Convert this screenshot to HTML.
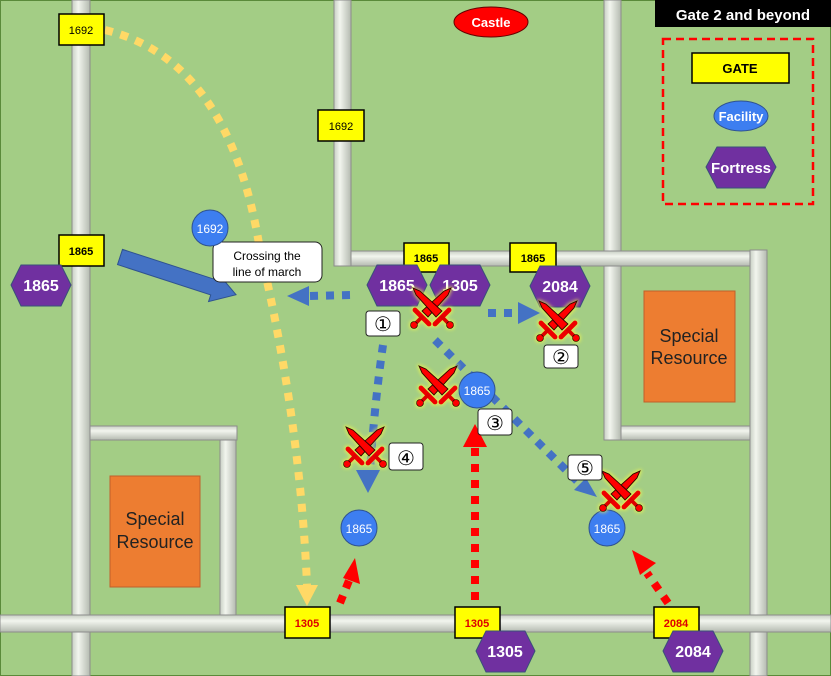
<!DOCTYPE html>
<html><head><meta charset="utf-8"><style>
html,body{margin:0;padding:0;background:#a3cd85}
svg{display:block}
text{font-family:"Liberation Sans",sans-serif}
</style></head><body>
<svg width="831" height="676" viewBox="0 0 831 676" xmlns="http://www.w3.org/2000/svg">
<defs>
<linearGradient id="rv" x1="0" x2="1" y1="0" y2="0"><stop offset="0" stop-color="#c8cfc4"/><stop offset=".35" stop-color="#f2f5ee"/><stop offset="1" stop-color="#b4bab0"/></linearGradient>
<linearGradient id="rh" x1="0" x2="0" y1="0" y2="1"><stop offset="0" stop-color="#c8cfc4"/><stop offset=".35" stop-color="#f2f5ee"/><stop offset="1" stop-color="#b4bab0"/></linearGradient>
<filter id="glow" x="-30%" y="-30%" width="160%" height="160%">
 <feMorphology in="SourceAlpha" operator="dilate" radius="1" result="d"/>
 <feGaussianBlur in="d" stdDeviation="1.5" result="b"/>
 <feFlood flood-color="#ffff40" flood-opacity=".6"/>
 <feComposite in2="b" operator="in" result="g"/>
 <feMerge><feMergeNode in="g"/><feMergeNode in="SourceGraphic"/></feMerge>
</filter>
<g id="sw1">
 <polygon points="-10,4 12,-16 19,-19 16,-12 -4,10" fill="#f00" stroke="#300" stroke-width="1"/>
 <line x1="-17" y1="3" x2="-3" y2="17" stroke="#e00" stroke-width="5" stroke-linecap="round"/>
 <line x1="-9" y1="9" x2="-16" y2="16" stroke="#d00" stroke-width="4"/>
 <circle cx="-18" cy="18" r="3.5" fill="#f00" stroke="#300" stroke-width=".8"/>
</g>
<g id="sw" filter="url(#glow)"><use href="#sw1"/><use href="#sw1" transform="scale(-1,1)"/></g>
</defs>
<rect x="0" y="0" width="831" height="676" fill="#a3cd85" stroke="#5a8a3a" stroke-width="2"/>
<g stroke="#8c8c8c" stroke-width="1">
<rect x="72" y="0" width="18" height="676" fill="url(#rv)"/>
<rect x="334" y="0" width="17" height="266" fill="url(#rv)"/>
<rect x="604" y="0" width="17" height="440" fill="url(#rv)"/>
<rect x="220" y="428" width="16" height="188" fill="url(#rv)"/>
<rect x="351" y="251" width="399" height="15" fill="url(#rh)"/>
<rect x="90" y="426" width="147" height="14" fill="url(#rh)"/>
<rect x="621" y="426" width="129" height="14" fill="url(#rh)"/>
<rect x="750" y="250" width="17" height="426" fill="url(#rv)"/>
<rect x="0" y="615" width="831" height="17" fill="url(#rh)"/>
</g>
<rect x="644" y="291" width="91" height="111" fill="#ed7d31" stroke="#c0602a"/>
<text x="689" y="342" font-size="18" text-anchor="middle" fill="#222">Special</text>
<text x="689" y="364" font-size="18" text-anchor="middle" fill="#222">Resource</text>
<rect x="110" y="476" width="90" height="111" fill="#ed7d31" stroke="#c0602a"/>
<text x="155" y="525" font-size="18" text-anchor="middle" fill="#222">Special</text>
<text x="155" y="548" font-size="18" text-anchor="middle" fill="#222">Resource</text>
<path d="M105 30 Q230 60 260 250 Q300 420 307 585" fill="none" stroke="#ffd966" stroke-width="8" stroke-dasharray="8 8"/>
<polygon points="296,585 318,585 307,606" fill="#ffd966"/>
<g stroke="#4472c4" stroke-width="8" stroke-dasharray="8 8" fill="none">
<line x1="350" y1="295" x2="308" y2="296"/>
<line x1="488" y1="313" x2="520" y2="313"/>
<path d="M383 345 Q375 400 370 470"/>
<line x1="435" y1="340" x2="578" y2="482"/>
</g>
<g fill="#4472c4">
<polygon points="287,296 309,286 309,306"/>
<polygon points="540,313 518,302 518,324"/>
<polygon points="368,493 356,470 380,470"/>
<polygon points="597,497 574,490 586,478"/>
</g>
<g stroke="#f00" stroke-width="8" stroke-dasharray="8 8" fill="none">
<line x1="475" y1="600" x2="475" y2="445"/>
<line x1="340" y1="603" x2="350" y2="578"/>
<line x1="668" y1="603" x2="647" y2="573"/>
</g>
<g fill="#f00">
<polygon points="475,424 463,447 487,447"/>
<polygon points="355,558 343,578 360,584"/>
<polygon points="632,550 640,575 656,563"/>
</g>
<g transform="translate(120,257) rotate(18)">
<polygon points="0,-8 98,-8 98,-15 122,0 98,15 98,8 0,8" fill="#4472c4" stroke="#2f528f" stroke-width="1"/>
</g>
<rect x="213" y="242" width="109" height="40" rx="7" fill="#fff" stroke="#222"/>
<text x="267" y="260" font-size="12" text-anchor="middle" fill="#000">Crossing the</text>
<text x="267" y="276" font-size="12" text-anchor="middle" fill="#000">line of march</text>
<g stroke="#000" stroke-width="1.5" fill="#ff0">
<rect x="59" y="14" width="45" height="31"/>
<rect x="318" y="110" width="46" height="31"/>
<rect x="59" y="235" width="45" height="31"/>
<rect x="404" y="243" width="45" height="29"/>
<rect x="510" y="243" width="46" height="29"/>
<rect x="285" y="607" width="45" height="31"/>
<rect x="455" y="607" width="45" height="31"/>
<rect x="654" y="607" width="45" height="31"/>
<rect x="692" y="53" width="97" height="30"/>
</g>
<g font-size="11" text-anchor="middle" fill="#000">
<text x="81" y="34">1692</text>
<text x="341" y="130">1692</text>
<text x="81" y="255" font-weight="bold">1865</text>
<text x="426" y="262" font-weight="bold">1865</text>
<text x="533" y="262" font-weight="bold">1865</text>
<text x="307" y="627" fill="#d00" font-weight="bold">1305</text>
<text x="477" y="627" fill="#d00" font-weight="bold">1305</text>
<text x="676" y="627" fill="#d00" font-weight="bold">2084</text>
<text x="740" y="73" font-size="13" font-weight="bold">GATE</text>
</g>
<g fill="#7030a0" stroke="#3a4f7a" stroke-width="1">
<polygon points="11,285 21,265 61,265 71,285 61,306 21,306"/>
<polygon points="367,285 377,265 417,265 427,285 417,306 377,306"/>
<polygon points="430,285 440,265 480,265 490,285 480,306 440,306"/>
<polygon points="530,286 540,266 580,266 590,286 580,307 540,307"/>
<polygon points="476,651 486,631 525,631 535,651 525,672 486,672"/>
<polygon points="663,651 673,631 713,631 723,651 713,672 673,672"/>
<polygon points="706,167 717,147 765,147 776,167 765,188 717,188"/>
</g>
<g font-size="16" font-weight="bold" fill="#fff" text-anchor="middle">
<text x="41" y="291">1865</text>
<text x="397" y="291">1865</text>
<text x="460" y="291">1305</text>
<text x="560" y="292">2084</text>
<text x="505" y="657">1305</text>
<text x="693" y="657">2084</text>
<text x="741" y="173" font-size="15">Fortress</text>
</g>
<g fill="#3d7ef0" stroke="#2f528f">
<circle cx="210" cy="228" r="18"/>
<circle cx="477" cy="390" r="18"/>
<circle cx="359" cy="528" r="18"/>
<circle cx="607" cy="528" r="18"/>
<ellipse cx="741" cy="116" rx="27" ry="15"/>
</g>
<g font-size="12" fill="#fff" text-anchor="middle">
<text x="210" y="233">1692</text>
<text x="477" y="395">1865</text>
<text x="359" y="533">1865</text>
<text x="607" y="533">1865</text>
<text x="741" y="121" font-size="13" font-weight="bold">Facility</text>
</g>
<ellipse cx="491" cy="22" rx="37" ry="15" fill="#f00" stroke="#600"/>
<text x="491" y="27" font-size="13" font-weight="bold" fill="#fff" text-anchor="middle">Castle</text>
<rect x="655" y="0" width="176" height="27" fill="#000"/>
<text x="743" y="20" font-size="15" font-weight="bold" fill="#fff" text-anchor="middle">Gate 2 and beyond</text>
<rect x="663" y="39" width="150" height="165" fill="none" stroke="#f00" stroke-width="2.5" stroke-dasharray="8 5"/>
<use href="#sw" transform="translate(432,307)"/>
<use href="#sw" transform="translate(558,320)"/>
<use href="#sw" transform="translate(438,385)"/>
<use href="#sw" transform="translate(365,446)"/>
<use href="#sw" transform="translate(621,490)"/>
<g fill="#fff" stroke="#222">
<rect x="366" y="311" width="34" height="25" rx="3"/>
<rect x="544" y="345" width="34" height="23" rx="3"/>
<rect x="478" y="409" width="34" height="26" rx="3"/>
<rect x="389" y="443" width="34" height="27" rx="3"/>
<rect x="568" y="455" width="34" height="25" rx="3"/>
</g>
<g font-size="20" fill="#000" text-anchor="middle" font-family="'Liberation Sans','Noto Sans CJK JP',sans-serif">
<text x="383" y="331">①</text>
<text x="561" y="364">②</text>
<text x="495" y="430">③</text>
<text x="406" y="465">④</text>
<text x="585" y="475">⑤</text>
</g>
</svg>
</body></html>
